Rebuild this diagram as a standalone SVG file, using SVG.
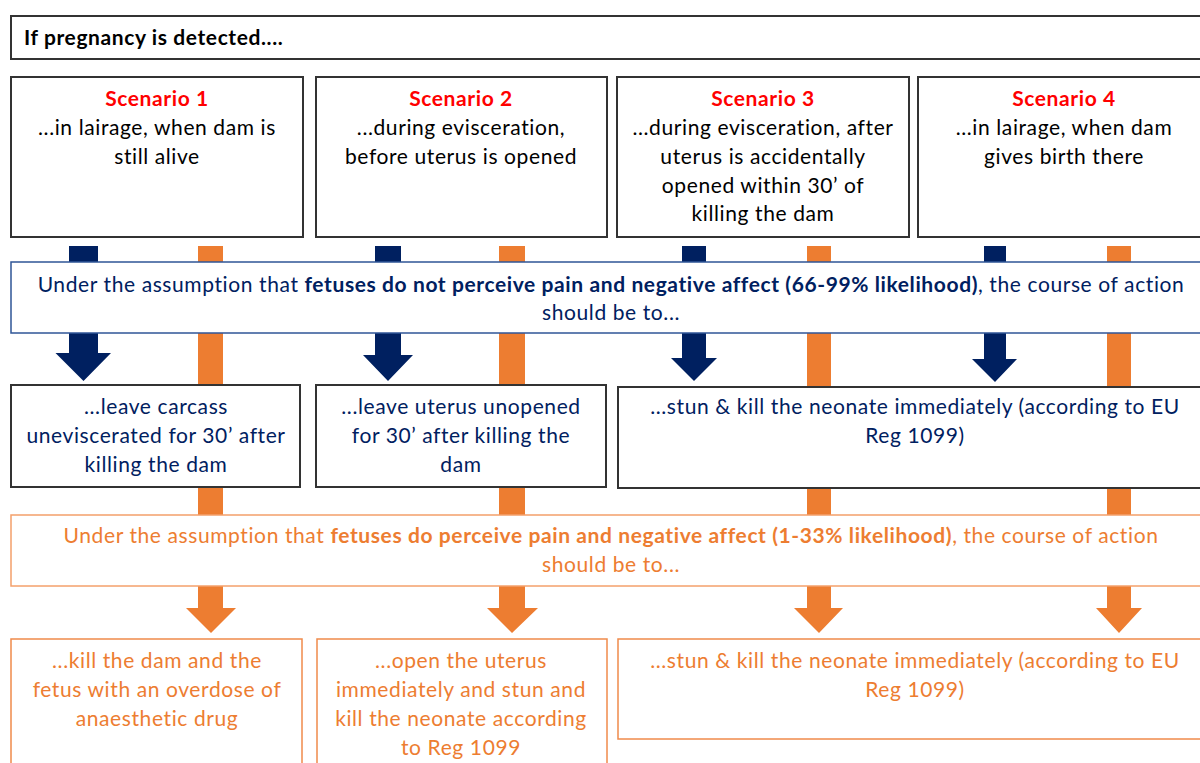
<svg xmlns="http://www.w3.org/2000/svg" width="1200" height="763" viewBox="0 0 1200 763">
<style>
text{font-family:Lato,"Open Sans","Liberation Sans",sans-serif;font-size:21px;letter-spacing:0.6px;text-anchor:middle}
.blk{fill:#000}
.nav{fill:#002060}
.org{fill:#ED7D31}
.red{fill:#FF0000;font-weight:bold}
.b{font-weight:bold}
.box{fill:#fff;stroke:#333;stroke-width:2}
.nban{fill:#fff;stroke:#2F5597;stroke-width:1.5}
.oban{fill:#fff;stroke:#F4A06B;stroke-width:1.5}
.obox{fill:#fff;stroke:#F08A4B;stroke-width:1.5}
</style>
<rect width="1200" height="763" fill="#fff"/>
<g id="connectors">
<polygon class="nav" points="69,246 98,246 98,353 111,353 83.5,381 55.5,353 69,353"/>
<polygon class="nav" points="375,246 401,246 401,355 413,355 388,381 363,355 375,355"/>
<polygon class="nav" points="682,246 706,246 706,358 717,358 694,381 671,358 682,358"/>
<polygon class="nav" points="984,246 1006,246 1006,359 1017,359 995,382 972,359 984,359"/>
<polygon class="org" points="198,246 223,246 223,608 236,608 211,633 186,608 198,608"/>
<polygon class="org" points="499,246 525,246 525,608 538,608 512,633 487,608 499,608"/>
<polygon class="org" points="807,246 831,246 831,608 843,608 819,633 794,608 807,608"/>
<polygon class="org" points="1107,246 1131,246 1131,608 1142,608 1119,633 1096,608 1107,608"/>
</g>
<g id="header">
<rect class="box" x="11" y="16" width="1200" height="43"/>
<text class="blk b" x="24" y="45" style="text-anchor:start">If pregnancy is detected....</text>
</g>
<g id="scenario1">
<rect class="box" x="11" y="77" width="292" height="160"/>
<text class="red" x="157" y="106">Scenario 1</text>
<text class="blk" x="157" y="135">...in lairage, when dam is</text>
<text class="blk" x="157" y="164">still alive</text>
</g>
<g id="scenario2">
<rect class="box" x="316" y="77" width="291" height="160"/>
<text class="red" x="461" y="106">Scenario 2</text>
<text class="blk" x="461" y="135">...during evisceration,</text>
<text class="blk" x="461" y="164">before uterus is opened</text>
</g>
<g id="scenario3">
<rect class="box" x="617" y="77" width="292" height="160"/>
<text class="red" x="763" y="106">Scenario 3</text>
<text class="blk" x="763" y="135">...during evisceration, after</text>
<text class="blk" x="763" y="164">uterus is accidentally</text>
<text class="blk" x="763" y="193">opened within 30’ of</text>
<text class="blk" x="763" y="221">killing the dam</text>
</g>
<g id="scenario4">
<rect class="box" x="918" y="77" width="300" height="160"/>
<text class="red" x="1064" y="106">Scenario 4</text>
<text class="blk" x="1064" y="135">...in lairage, when dam</text>
<text class="blk" x="1064" y="164">gives birth there</text>
</g>
<g id="assumption-no-pain">
<rect class="nban" x="11" y="262" width="1205" height="71"/>
<text class="nav" x="611" y="292">Under the assumption that <tspan class="b">fetuses do not perceive pain and negative affect (66-99% likelihood)</tspan>, the course of action</text>
<text class="nav" x="611" y="320">should be to...</text>
</g>
<g id="action-no-1">
<rect class="box" x="11" y="385" width="289" height="102"/>
<text class="nav" x="156" y="414">...leave carcass</text>
<text class="nav" x="156" y="443">uneviscerated for 30’ after</text>
<text class="nav" x="156" y="472">killing the dam</text>
</g>
<g id="action-no-2">
<rect class="box" x="316" y="385" width="290" height="102"/>
<text class="nav" x="461" y="414">...leave uterus unopened</text>
<text class="nav" x="461" y="443">for 30’ after killing the</text>
<text class="nav" x="461" y="472">dam</text>
</g>
<g id="action-no-34">
<rect class="box" x="618" y="387" width="600" height="101"/>
<text class="nav" x="915" y="414">...stun &amp; kill the neonate immediately (according to EU</text>
<text class="nav" x="915" y="443">Reg 1099)</text>
</g>
<g id="assumption-pain">
<rect class="oban" x="11" y="515" width="1205" height="71"/>
<text class="org" x="611" y="543">Under the assumption that <tspan class="b">fetuses do perceive pain and negative affect (1-33% likelihood)</tspan>, the course of action</text>
<text class="org" x="611" y="572">should be to...</text>
</g>
<g id="action-pain-1">
<rect class="obox" x="11" y="639" width="291" height="140"/>
<text class="org" x="157" y="668">...kill the dam and the</text>
<text class="org" x="157" y="697">fetus with an overdose of</text>
<text class="org" x="157" y="726">anaesthetic drug</text>
</g>
<g id="action-pain-2">
<rect class="obox" x="317" y="639" width="290" height="140"/>
<text class="org" x="461" y="668">...open the uterus</text>
<text class="org" x="461" y="697">immediately and stun and</text>
<text class="org" x="461" y="726">kill the neonate according</text>
<text class="org" x="461" y="755">to Reg 1099</text>
</g>
<g id="action-pain-34">
<rect class="obox" x="618" y="639" width="600" height="100"/>
<text class="org" x="915" y="668">...stun &amp; kill the neonate immediately (according to EU</text>
<text class="org" x="915" y="697">Reg 1099)</text>
</g>
</svg>
